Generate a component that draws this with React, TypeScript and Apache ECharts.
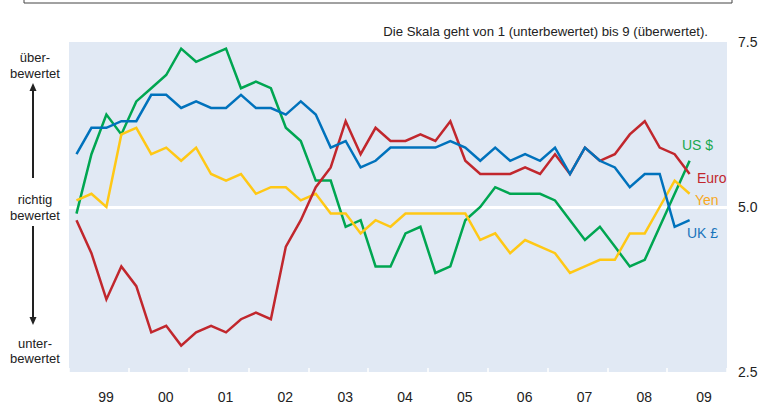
import { useEffect, useRef } from 'react';
import * as echarts from 'echarts';

// quarterly readings, Q1 1999 .. Q2 2009 (scale 1-9)
const years = ['99', '00', '01', '02', '03', '04', '05', '06', '07', '08', '09'];
const quartersTotal = 44;
const yTicks = [2.5, 5.0, 7.5];

const usd = [
  4.9, 5.8, 6.4, 6.1, 6.6, 6.8, 7.0, 7.4, 7.2, 7.3, 7.4, 6.8, 6.9, 6.8, 6.2, 6.0, 5.4, 5.4, 4.7, 4.8, 4.1,
  4.1, 4.6, 4.7, 4.0, 4.1, 4.8, 5.0, 5.3, 5.2, 5.2, 5.2, 5.1, 4.8, 4.5, 4.7, 4.4, 4.1, 4.2, 4.7, 5.2, 5.7,
];
const yen = [
  5.1, 5.2, 5.0, 6.1, 6.2, 5.8, 5.9, 5.7, 5.9, 5.5, 5.4, 5.5, 5.2, 5.3, 5.3, 5.1, 5.2, 4.9, 4.9, 4.6, 4.8,
  4.7, 4.9, 4.9, 4.9, 4.9, 4.9, 4.5, 4.6, 4.3, 4.5, 4.4, 4.3, 4.0, 4.1, 4.2, 4.2, 4.6, 4.6, 5.0, 5.4, 5.2,
];
const euro = [
  4.8, 4.3, 3.6, 4.1, 3.8, 3.1, 3.2, 2.9, 3.1, 3.2, 3.1, 3.3, 3.4, 3.3, 4.4, 4.8, 5.3, 5.6, 6.3, 5.8, 6.2,
  6.0, 6.0, 6.1, 6.0, 6.3, 5.7, 5.5, 5.5, 5.5, 5.6, 5.5, 5.8, 5.5, 5.9, 5.7, 5.8, 6.1, 6.3, 5.9, 5.8, 5.5,
];
const gbp = [
  5.8, 6.2, 6.2, 6.3, 6.3, 6.7, 6.7, 6.5, 6.6, 6.5, 6.5, 6.7, 6.5, 6.5, 6.4, 6.6, 6.4, 5.9, 6.0, 5.6, 5.7,
  5.9, 5.9, 5.9, 5.9, 6.0, 5.9, 5.7, 5.9, 5.7, 5.8, 5.7, 5.9, 5.5, 5.9, 5.7, 5.6, 5.3, 5.5, 5.5, 4.7, 4.8,
];

const FONT = '"Liberation Sans", Arial, sans-serif';

const toPoints = (arr: number[]) => arr.map((v, i) => [i + 0.5, v]);

export default function App() {
  const chartRef = useRef<HTMLDivElement>(null);

  useEffect(() => {
    if (!chartRef.current) return;
    const chart = echarts.init(chartRef.current, undefined, { renderer: 'svg' });

    const line = (name: string, data: number[], color: string, z: number) => ({
      name,
      type: 'line',
      xAxisIndex: 1,
      data: toPoints(data),
      symbol: 'none',
      z,
      lineStyle: { color, width: 2.5, join: 'miter' },
    });

    const txt = (text: string, x: number, y: number, extra: any = {}) => ({
      type: 'text',
      x,
      y,
      style: {
        text,
        fontFamily: FONT,
        fontSize: 13,
        fill: '#222',
        textAlign: 'center',
        textVerticalAlign: 'middle',
        ...extra,
      },
    });

    const option: any = {
      animation: false,
      grid: {
        left: 69,
        right: 34,
        top: 42,
        bottom: 35,
        show: true,
        backgroundColor: '#e1e9f4',
        borderWidth: 0,
      },
      xAxis: [
        {
          type: 'category',
          data: years,
          boundaryGap: true,
          axisLine: { show: false },
          axisTick: { show: true, inside: true, length: 4, lineStyle: { color: '#fff', width: 1.5 } },
          axisLabel: { color: '#222', fontSize: 14, fontFamily: FONT, margin: 18, padding: [0, 0, 0, 14] },
          splitLine: { show: false },
        },
        {
          type: 'value',
          min: 0,
          max: quartersTotal,
          show: false,
        },
      ],
      yAxis: {
        type: 'value',
        position: 'right',
        min: yTicks[0],
        max: yTicks[yTicks.length - 1],
        interval: 2.5,
        axisLine: { show: false },
        axisTick: { show: false },
        axisLabel: {
          color: '#222',
          fontSize: 14,
          fontFamily: FONT,
          margin: 11,
          formatter: (v: number) => v.toFixed(1),
        },
        splitLine: {
          show: true,
          lineStyle: { color: ['rgba(0,0,0,0)', '#ffffff', 'rgba(0,0,0,0)'], width: 3 },
        },
      },
      series: [
        line('US $', usd, '#00a651', 2),
        line('Yen', yen, '#ffc815', 3),
        line('Euro', euro, '#c1272d', 4),
        line('UK £', gbp, '#0072bc', 5),
      ],
      graphic: [
        // box remnant at the top
        {
          type: 'rect',
          shape: { x: 24, y: -30, width: 708, height: 33 },
          style: { fill: 'none', stroke: '#444', lineWidth: 1 },
        },
        txt('Die Skala geht von 1 (unterbewertet) bis 9 (überwertet).', 708, 31, { textAlign: 'right', fontSize: 13.2 }),
        txt('über-', 35, 57),
        txt('bewertet', 35, 73),
        txt('richtig', 35, 199),
        txt('bewertet', 35, 215),
        txt('unter-', 35, 343),
        txt('bewertet', 35, 358),
        {
          type: 'line',
          shape: { x1: 33, y1: 89, x2: 33, y2: 178 },
          style: { stroke: '#222', lineWidth: 2 },
        },
        {
          type: 'polygon',
          shape: { points: [[33, 83], [29.5, 91], [36.5, 91]] },
          style: { fill: '#222' },
        },
        {
          type: 'line',
          shape: { x1: 33, y1: 226, x2: 33, y2: 319 },
          style: { stroke: '#222', lineWidth: 2 },
        },
        {
          type: 'polygon',
          shape: { points: [[33, 325], [29.5, 317], [36.5, 317]] },
          style: { fill: '#222' },
        },
        txt('US $', 682, 145, { textAlign: 'left', fontSize: 14, fill: '#1aa84f' }),
        txt('Euro', 697, 178, { textAlign: 'left', fontSize: 14, fill: '#c1272d' }),
        txt('Yen', 695, 200, { textAlign: 'left', fontSize: 14, fill: '#f7a823' }),
        txt('UK £', 687, 233, { textAlign: 'left', fontSize: 14, fill: '#1a75bc' }),
      ],
    };

    chart.setOption(option);
    return () => chart.dispose();
  }, []);

  return (
    <div
      ref={chartRef}
      style={{ position: 'fixed', left: 0, top: 0, width: 761, height: 407, background: '#fff' }}
    />
  );
}
